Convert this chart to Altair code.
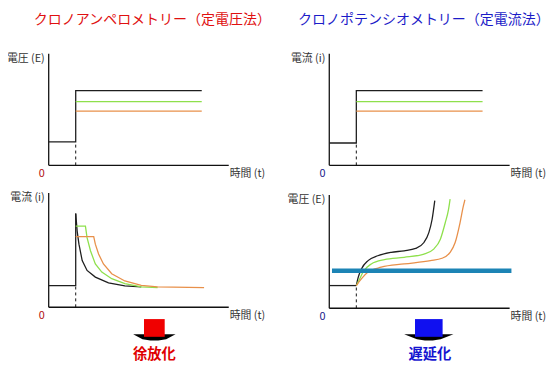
import altair as alt
import pandas as pd

FONT = "Noto Sans CJK JP"

# ---------------- data (logical units: time t, signal value v) ----------------
series_names = ["black", "green", "orange"]
series_colors = ["#1e1e1e", "#8ee04c", "#e8904a"]

axis_t = [0, 10]
axis_v = [0, 10]
t_step = 1.5
t_end = 8.5

# top-left: applied potential E (step)
tl_base = 2.1
tl_levels = [6.7, 5.7, 4.85]

# top-right: applied current i (step)
tr_base = 2.0
tr_levels = [6.7, 5.7, 4.85]

# bottom-left: current response i(t)
bl_base = 1.9
bl_peak = 8.2
bl_black_t = [1.5, 1.58, 1.68, 1.86, 2.13, 2.59, 3.32, 4.23, 5.14]
bl_black_v = [8.2, 6.66, 5.52, 4.08, 3.22, 2.64, 2.13, 1.87, 1.78]
bl_green_t = [1.5, 2.04, 2.13, 2.32, 2.59, 2.95, 3.5, 4.23, 5.14, 6.05]
bl_green_v = [7.1, 7.1, 6.09, 4.94, 3.79, 3.08, 2.5, 2.07, 1.78, 1.72]
bl_orange_t = [1.5, 2.5, 2.59, 2.77, 3.04, 3.5, 4.23, 5.14, 6.05, 8.63]
bl_orange_v = [6.18, 6.18, 5.52, 4.66, 3.79, 2.93, 2.3, 1.92, 1.78, 1.72]

# bottom-right: potential response E(t)
br_base = 2.0
br_black_t = [1.5, 1.6, 1.79, 2.15, 2.69, 3.43, 4.15, 4.79, 5.25, 5.52, 5.7, 5.85]
br_black_v = [2.0, 2.7, 3.48, 4.2, 4.63, 4.93, 5.07, 5.28, 5.8, 6.67, 7.83, 9.5]
br_green_t = [1.5, 1.69, 1.87, 2.33, 3.06, 4.15, 5.25, 5.79, 6.16, 6.43, 6.61, 6.7]
br_green_v = [2.0, 2.6, 3.19, 3.91, 4.29, 4.49, 4.78, 5.22, 6.09, 7.54, 8.7, 9.63]
br_orange_t = [1.5, 1.79, 2.15, 2.88, 4.15, 5.61, 6.25, 6.7, 6.98, 7.25, 7.43, 7.52]
br_orange_v = [2.0, 2.61, 3.19, 3.62, 3.91, 4.2, 4.41, 4.93, 5.8, 7.54, 8.98, 9.57]
br_threshold = 3.3
br_threshold_t = [0.15, 10.1]

# texts
title_left = "クロノアンペロメトリー（定電圧法）"
title_right = "クロノポテンシオメトリー（定電流法）"
ylab_E = "電圧 (E)"
ylab_i = "電流 (i)"
xlab_t = "時間 (t)"
result_left = "徐放化"
result_right = "遅延化"

# ---------------- layout (chart pixels, page minus 8px margin) ----------------
GEOM = {
    "tl": (41.3, 224, 157, 43.7),
    "tr": (326, 509, 157, 43.7),
    "bl": (41.3, 224, 301, 185),
    "br": (326, 509, 302, 187),
}

color_enc = alt.Color("s:N", scale=alt.Scale(domain=series_names, range=series_colors), legend=None)


def line_df(ts, vs, s, g):
    return pd.DataFrame({"t": ts, "v": vs, "s": s, "g": g, "k": list(range(len(ts)))})


def panel(key, line_frames, curve_frames, base, ylabel, zero_color, extra=None):
    x0, x1, y0, y1 = GEOM[key]
    xs = alt.Scale(domain=axis_t, range=[x0, x1])
    ys = alt.Scale(domain=axis_v, range=[y0, y1])
    X = alt.X("t:Q", scale=xs, axis=None)
    Y = alt.Y("v:Q", scale=ys, axis=None)

    axes = pd.DataFrame({"t": [axis_t[0], axis_t[0]], "t2": [axis_t[0], axis_t[1]],
                         "v": [axis_v[0], axis_v[0]], "v2": [axis_v[1], axis_v[0]]})
    layers = [
        alt.Chart(axes).mark_rule(color="#111", strokeWidth=1.3).encode(
            x=X, x2="t2:Q", y=Y, y2="v2:Q"),
        alt.Chart(pd.DataFrame({"t": [t_step], "v": [axis_v[0]], "v2": [base]}))
        .mark_rule(color="#111", strokeWidth=1, strokeDash=[3, 3]).encode(x=X, y=Y, y2="v2:Q"),
    ]
    layers.append(
        alt.Chart(pd.concat(line_frames, ignore_index=True)).mark_line(strokeWidth=1.3).encode(
            x=X, y=Y, color=color_enc, detail="g:N", order="k:Q"))
    if curve_frames:
        layers.append(
            alt.Chart(pd.concat(curve_frames, ignore_index=True))
            .mark_line(strokeWidth=1.3, interpolate="monotone").encode(
                x=X, y=Y, color=color_enc, detail="g:N", order="k:Q"))
    if extra is not None:
        layers.append(extra(X, Y))

    lab = dict(font=FONT, fontSize=11, color="#333")
    layers += [
        alt.Chart(pd.DataFrame({"t": [axis_t[0]], "v": [axis_v[1]], "txt": [ylabel]}))
        .mark_text(align="right", baseline="middle", dx=-4, dy=5, **lab).encode(x=X, y=Y, text="txt:N"),
        alt.Chart(pd.DataFrame({"t": [axis_t[1]], "v": [axis_v[0]], "txt": [xlab_t]}))
        .mark_text(align="left", baseline="middle", dx=1, dy=8.5, **lab).encode(x=X, y=Y, text="txt:N"),
        alt.Chart(pd.DataFrame({"t": [axis_t[0]], "v": [axis_v[0]], "txt": ["0"]}))
        .mark_text(align="center", baseline="middle", dx=-7, dy=9, font=FONT, fontSize=11,
                   color=zero_color).encode(x=X, y=Y, text="txt:N"),
    ]
    return alt.layer(*layers)


tl_lines = [
    line_df([0, t_step, t_step, t_end], [tl_base, tl_base, tl_levels[0], tl_levels[0]], "black", "a"),
    line_df([t_step, t_end], [tl_levels[1]] * 2, "green", "b"),
    line_df([t_step, t_end], [tl_levels[2]] * 2, "orange", "c"),
]
tr_lines = [
    line_df([0, t_step, t_step, t_end], [tr_base, tr_base, tr_levels[0], tr_levels[0]], "black", "a"),
    line_df([t_step, t_end], [tr_levels[1]] * 2, "green", "b"),
    line_df([t_step, t_end], [tr_levels[2]] * 2, "orange", "c"),
]
bl_lines = [
    line_df([0, t_step, t_step], [bl_base, bl_base, bl_peak], "black", "a"),
    line_df(bl_black_t, bl_black_v, "black", "b"),
    line_df(bl_green_t, bl_green_v, "green", "c"),
    line_df(bl_orange_t, bl_orange_v, "orange", "d"),
]
br_lines = [line_df([0, t_step], [br_base, br_base], "black", "a")]
br_curves = [
    line_df(br_black_t, br_black_v, "black", "b"),
    line_df(br_green_t, br_green_v, "green", "c"),
    line_df(br_orange_t, br_orange_v, "orange", "d"),
]


def threshold(X, Y):
    return alt.Chart(pd.DataFrame({"t": [br_threshold_t[0]], "t2": [br_threshold_t[1]],
                                   "v": [br_threshold]})).mark_rule(
        color="#1c84b5", strokeWidth=4.5).encode(x=X, x2="t2:Q", y=Y)


p_tl = panel("tl", tl_lines, None, tl_base, ylab_E, "#b01010")
p_tr = panel("tr", tr_lines, None, tr_base, ylab_i, "#20208a")
p_bl = panel("bl", bl_lines, None, bl_base, ylab_i, "#b01010")
p_br = panel("br", br_lines, br_curves, br_base, ylab_E, "#20208a", extra=threshold)

# ---------------- decorations: titles, arrows, result labels ----------------
one = pd.DataFrame({"d": [0]})


def text_at(txt, x, y, size, color, weight="normal"):
    return alt.Chart(one).mark_text(text=txt, font=FONT, fontSize=size, color=color,
                                    fontWeight=weight, align="center", baseline="middle").encode(
        x=alt.value(x), y=alt.value(y))


def arrow(x, y, half_box, fill):
    base_path = f"M-{half_box + 11},6.5 L{half_box + 11},6.5 L12,11.5 L4,12.8 L-4,12.8 L-12,11.5 Z"
    box_path = f"M-{half_box},-9 L{half_box},-9 L{half_box},9 L-{half_box},9 Z"
    return [
        alt.Chart(one).mark_point(shape=base_path, size=4, filled=True, color="#000",
                                  opacity=1, strokeWidth=0).encode(x=alt.value(x), y=alt.value(y)),
        alt.Chart(one).mark_point(shape=box_path, size=4, filled=True, color=fill,
                                  opacity=1, strokeWidth=0).encode(x=alt.value(x), y=alt.value(y)),
    ]


deco = alt.layer(
    text_at(title_left, 146.5, 10, 14.2, "#e01010"),
    text_at(title_right, 422, 10, 14.2, "#1c1cc8"),
    *arrow(148.5, 322, 10.5, "#f00000"),
    *arrow(427, 322, 14, "#1010f0"),
    text_at(result_left, 148.5, 349, 14.5, "#e00000", "bold"),
    text_at(result_right, 428, 349, 14.5, "#1515d0", "bold"),
)

chart = alt.layer(p_tl, p_tr, p_bl, p_br, deco).resolve_scale(
    x="independent", y="independent"
).properties(
    width=552, height=361, padding=0,
    autosize=alt.AutoSizeParams(type="none"),
).configure_view(stroke=None)

chart.save("out.html", embed_options={"renderer": "svg", "actions": False})
